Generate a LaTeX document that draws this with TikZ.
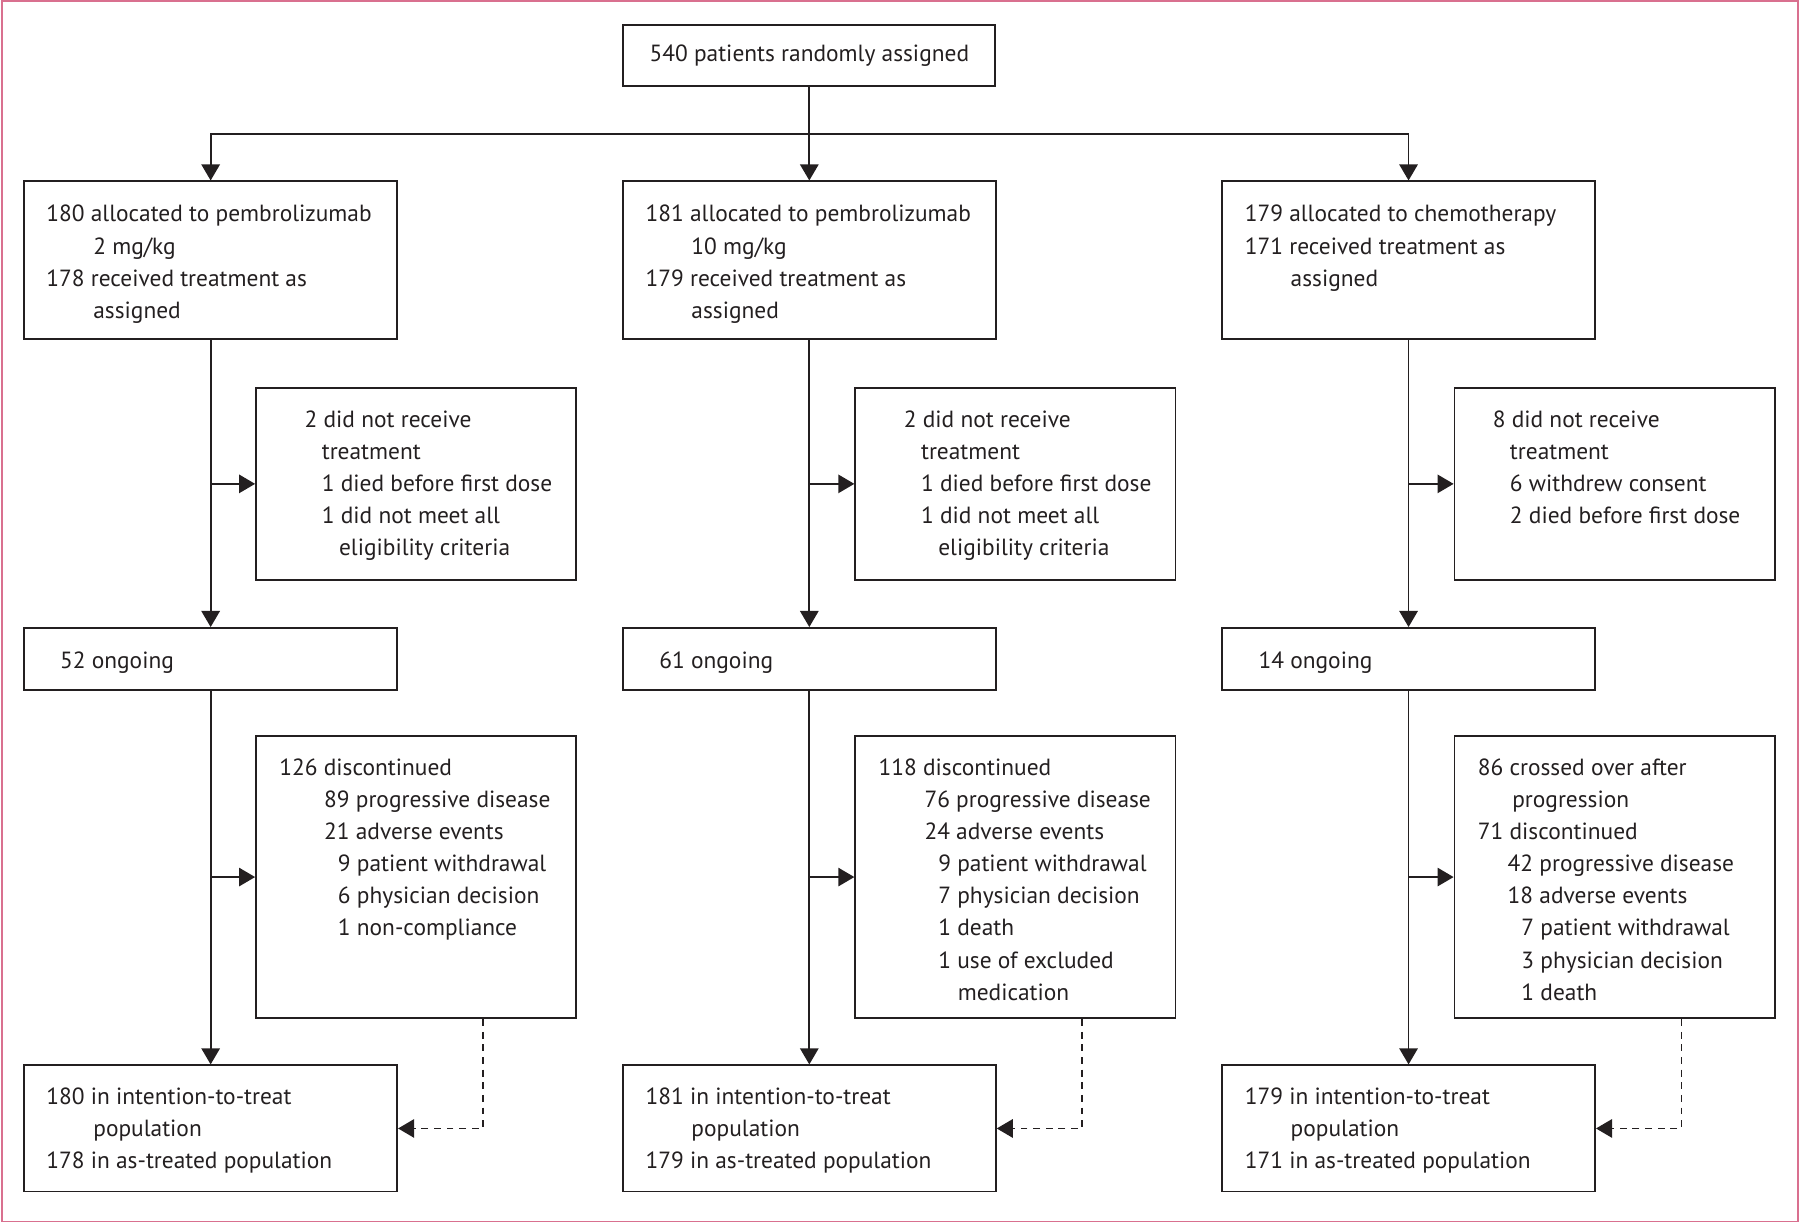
\documentclass[tikz,border=0pt]{standalone}
\usepackage{fontspec}
\setmainfont{PT Sans}
\usetikzlibrary{arrows.meta,calc}
\definecolor{ink}{HTML}{231F20}
\definecolor{framec}{HTML}{D9708F}
\newcommand\indx[1]{\hspace*{#1\dimexpr0.02cm\relax}}
\begin{document}
\begin{tikzpicture}[x=0.02cm,y=-0.02cm,
  box/.style={draw=ink,line width=0.9pt,rectangle,inner sep=0pt},
  mainbox/.style={box,minimum width=6.5cm},
  sidebox/.style={box,minimum width=5.58cm},
  txt/.style={anchor=north west,inner sep=0pt,align=left,text=ink,font=\fontsize{11.6}{15.94}\selectfont},
  lnk/.style={draw=ink,line width=0.9pt},
  arr/.style={lnk,-{Triangle[length=0.28cm,width=0.32cm]}},
  dsh/.style={arr,dash pattern=on 0.12cm off 0.1cm}]
\useasboundingbox (0,0) rectangle (1568,1065);
\draw[framec,line width=0.8pt] (1.5,1) rectangle (1566.5,1064);

% top
\node[box,minimum width=6.48cm,minimum height=1.06cm,text=ink,font=\fontsize{11.6}{15.94}\selectfont] (top) at (705,48.5) {540 patients randomly assigned};
\coordinate (split) at (705,117);

% row 1
\node[mainbox,minimum height=2.74cm] (a1) at (183.5,226.5) {};
\node[mainbox,minimum height=2.74cm] (b1) at (705,226.5) {};
\node[mainbox,minimum height=2.74cm] (c1) at (1227,226.5) {};
\node[txt] (ta1) at (40,173.3) {\strut 180 allocated to pembrolizumab\\ \indx{41}2 mg/kg\\ 178 received treatment as\\ \indx{41}assigned};
\node[txt] (tb1) at (562,173.3) {\strut 181 allocated to pembrolizumab\\ \indx{40}10 mg/kg\\ 179 received treatment as\\ \indx{40}assigned};
\node[txt] (tc1) at (1084,173.3) {\strut 179 allocated to chemotherapy\\ 171 received treatment as\\ \indx{40}assigned};

% side row 1
\node[sidebox,minimum height=3.34cm] (sa1) at (362.5,421.5) {};
\node[sidebox,minimum height=3.34cm] (sb1) at (884.5,421.5) {};
\node[sidebox,minimum height=3.34cm] (sc1) at (1406.5,421.5) {};
\node[txt] (tsa1) at (265,352.3) {\strut 2 did not receive\\ \indx{15}treatment\\ \indx{15}1 died before first dose\\ \indx{15}1 did not meet all\\ \indx{30}eligibility criteria};
\node[txt] (tsb1) at (787,352.3) {\strut 2 did not receive\\ \indx{15}treatment\\ \indx{15}1 died before first dose\\ \indx{15}1 did not meet all\\ \indx{30}eligibility criteria};
\node[txt] (tsc1) at (1300,352.3) {\strut 8 did not receive\\ \indx{15}treatment\\ \indx{15}6 withdrew consent\\ \indx{15}2 died before first dose};

% row 2
\node[mainbox,minimum height=1.08cm] (a2) at (183.5,574) {};
\node[mainbox,minimum height=1.08cm] (b2) at (705,574) {};
\node[mainbox,minimum height=1.08cm] (c2) at (1227,574) {};
\node[txt] (ta2) at (52,562.3) {\strut 52 ongoing};
\node[txt] (tb2) at (574,562.3) {\strut 61 ongoing};
\node[txt] (tc2) at (1096,562.3) {\strut 14 ongoing};

% side row 2
\node[sidebox,minimum height=4.92cm] (sa2) at (362.5,764) {};
\node[sidebox,minimum height=4.92cm] (sb2) at (884.5,764) {};
\node[sidebox,minimum height=4.92cm] (sc2) at (1406.5,764) {};
\node[txt] (tsa2) at (243,655.3) {\strut 126 discontinued\\ \indx{39}89 progressive disease\\ \indx{39}21 adverse events\\ \indx{51}9 patient withdrawal\\ \indx{51}6 physician decision\\ \indx{51}1 non-compliance};
\node[txt] (tsb2) at (765,655.3) {\strut 118 discontinued\\ \indx{40}76 progressive disease\\ \indx{40}24 adverse events\\ \indx{52}9 patient withdrawal\\ \indx{52}7 physician decision\\ \indx{52}1 death\\ \indx{52}1 use of excluded\\ \indx{69}medication};
\node[txt] (tsc2) at (1287,655.3) {\strut 86 crossed over after\\ \indx{30}progression\\ 71 discontinued\\ \indx{26}42 progressive disease\\ \indx{26}18 adverse events\\ \indx{38}7 patient withdrawal\\ \indx{38}3 physician decision\\ \indx{38}1 death};

% row 3
\node[mainbox,minimum height=2.2cm] (a3) at (183.5,983) {};
\node[mainbox,minimum height=2.2cm] (b3) at (705,983) {};
\node[mainbox,minimum height=2.2cm] (c3) at (1227,983) {};
\node[txt] (ta3) at (40,942.3) {\strut 180 in intention-to-treat\\ \indx{41}population\\ 178 in as-treated population};
\node[txt] (tb3) at (562,942.3) {\strut 181 in intention-to-treat\\ \indx{40}population\\ 179 in as-treated population};
\node[txt] (tc3) at (1084,942.3) {\strut 179 in intention-to-treat\\ \indx{40}population\\ 171 in as-treated population};

% connectors
\draw[lnk] (top) -- (split);
\draw[arr] (split) -| (a1);
\draw[arr] (split) -- (b1);
\draw[arr] (split) -| (c1);
\foreach \c in {a,b,c}{
  \draw[arr] (\c1) -- (\c2);
  \draw[arr] (\c1.south |- s\c1.west) -- (s\c1.west);
  \draw[arr] (\c2) -- (\c3);
  \draw[arr] (\c2.south |- s\c2.west) -- (s\c2.west);
  \coordinate (d\c) at ($(s\c2.south west)+(198.5,0)$);
  \draw[dsh] (d\c) |- (\c3.east);
}
\end{tikzpicture}
\end{document}
